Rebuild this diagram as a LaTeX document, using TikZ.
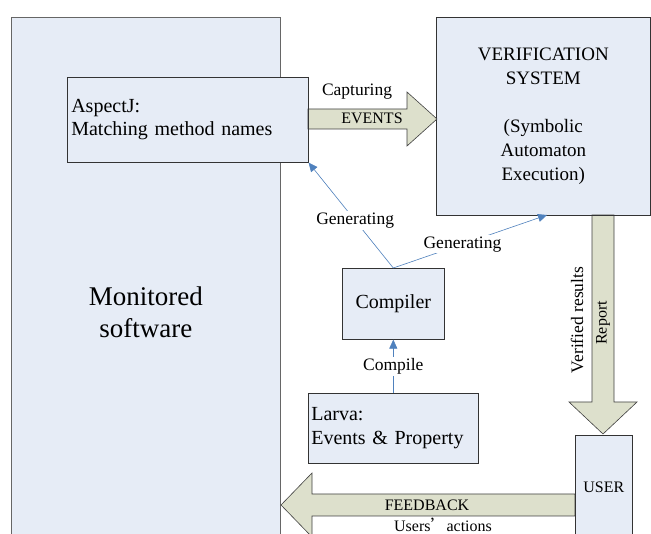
\documentclass[tikz,border=0pt]{standalone}
\usepackage{fontspec}
\setmainfont{Liberation Serif}
\newfontfamily\cjk{Noto Sans CJK SC}
\usetikzlibrary{arrows.meta}

\definecolor{boxfill}{RGB}{230,236,246}
\definecolor{arrowfill}{RGB}{221,224,204}
\definecolor{lineblue}{RGB}{79,129,189}

\tikzset{
  box/.style={draw=black!80, fill=boxfill, line width=0.6pt, inner sep=0pt, anchor=north west},
  boxtext/.style={font=\fontsize{20}{23.5}\selectfont},
  blockarrow/.style={draw=black!75, fill=arrowfill, line width=0.6pt, line join=miter},
  flow/.style={draw=lineblue, line width=0.6pt, -{Triangle[length=9pt,width=8pt]}},
  flowlabel/.style={fill=white, inner sep=1.5pt, font=\fontsize{17.5}{20}\selectfont},
  arrowtext/.style={inner sep=0pt, font=\fontsize{16}{18}\selectfont},
}

\begin{document}
\begin{tikzpicture}[x=1pt,y=-1pt]
            \clip (0,0) rectangle (651,534);
            \fill[white] (0,0) rectangle (651,534);

            % boxes
            \node[box, draw=black!60, minimum width=269pt, minimum height=590pt,
                  boxtext, font=\fontsize{27}{32.5}\selectfont, align=center] (monitored) at (11,17) {Monitored\\software};
            \node[box, minimum width=241pt, minimum height=85pt, text width=233pt,
                  inner xsep=4pt, align=left, boxtext] (aspectj) at (67,77) {AspectJ:\\Matching method names};
            \node[box, minimum width=214pt, minimum height=198pt, align=center,
                  font=\fontsize{19}{24}\selectfont] (verif) at (436,17)
                  {VERIFICATION\\SYSTEM\\[24pt](Symbolic\\Automaton\\Execution)};
            \node[box, minimum width=102pt, minimum height=71pt, boxtext] (compiler) at (342,268) {Compiler};
            \node[box, minimum width=170pt, minimum height=70pt, text width=164pt,
                  inner xsep=3pt, align=left, boxtext] (larva) at (308,393) {Larva:\\Events \& Property};
            \node[box, minimum width=57pt, minimum height=104pt, arrowtext] (user) at (575,435) {USER};

            % block arrows
            \filldraw[blockarrow] (308,109) -- (407,109) -- (407,92) -- (437,119)
                -- (407,146) -- (407,129) -- (308,129) -- cycle;
            \filldraw[blockarrow] (592,215) -- (592,402) -- (569,402) -- (603,434)
                -- (637,402) -- (614,402) -- (614,215) -- cycle;
            \filldraw[blockarrow] (575,494) -- (312,494) -- (312,473) -- (281,505)
                -- (312,537) -- (312,516) -- (575,516) -- cycle;
            \draw[draw=black!80, line width=0.6pt] (aspectj.north east) -- (aspectj.south east);
            \draw[draw=black!80, line width=0.6pt] (verif.south west) -- (verif.south east);
            \draw[draw=black!80, line width=0.6pt] (user.north west) -- (user.south west);

            \node[flowlabel, fill=none] (capturing) at (357,92) {Capturing};
            \node[arrowtext] (events) at (372,118) {EVENTS};
            \node[arrowtext, rotate=90] (report) at (603,323) {Report};
            \node[flowlabel, fill=none, inner sep=0pt, rotate=90] (verified) at (577,320) {Verified results};
            \node[arrowtext] (feedback) at (427,505) {FEEDBACK};
            \node[arrowtext] (actions) at (443,526) {Users\smash{\cjk ’}actions};

            % thin arrows
            \draw[flow] (larva.north) -- node[flowlabel] {Compile} (compiler.south);
            \draw[flow] (compiler.north) -- node[flowlabel, pos=0.45] {Generating} (aspectj.south east);
            \draw[flow] (compiler.north) -- node[flowlabel, pos=0.45] {Generating} (547,215);
        \end{tikzpicture}
\end{document}
